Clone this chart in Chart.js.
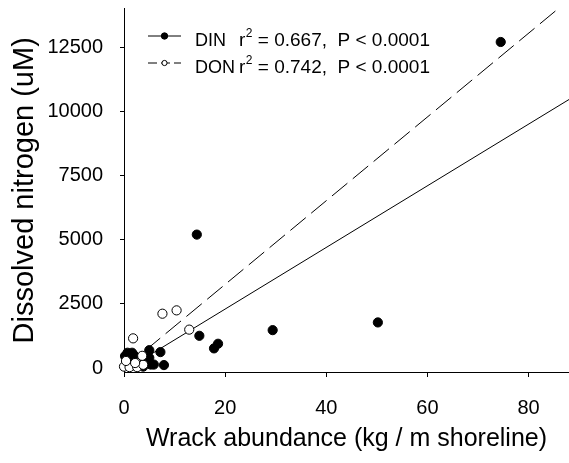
<!DOCTYPE html>
<html>
<head>
<meta charset="utf-8">
<script src="https://cdn.jsdelivr.net/npm/chart.js@4"></script>
<style>
html,body{margin:0;padding:0;background:#fff;}
#wrap{width:569px;height:463px;}
</style>
</head>
<body>
<div id="wrap"><canvas id="c" width="569" height="463"></canvas></div>
<script>
// ---- data ----
const dinX = [74.5, 14.4, 14.9, 17.8, 18.6, 29.4, 50.2, 0.2, 0.7, 1.6, 1.3, 0.8, 2.0, 5.0, 7.2, 5.0, 5.3, 5.9, 4.3, 7.9, 3.8, 1.6, 0.4];
const dinY = [12700, 5200, 1260, 770, 950, 1480, 1780, 470, 600, 600, 400, 250, 500, 700, 625, 400, 140, 140, 270, 120, 60, 100, 150];
const donX = [0.0, 1.1, 2.6, 3.8, 3.6, 1.8, 7.6, 10.4, 12.9, 0.4, 2.2];
const donY = [60, 40, 40, 130, 480, 1160, 2120, 2250, 1500, 280, 200];
const dinFitX = [0, 88];
const dinFitY = [-100, 10460];
const donFitX = [0, 88];
const donFitY = [0, 14344];
const xTickValues = [0, 20, 40, 60, 80];
const yTickValues = [0, 2500, 5000, 7500, 10000, 12500];
const legendNames = ["DIN", "DON"];
const legendStats = [" = 0.667,  P < 0.0001", " = 0.742,  P < 0.0001"];
const xTitle = "Wrack abundance (kg / m shoreline)";
const yTitle = "Dissolved nitrogen (uM)";

const FONT = "'Liberation Sans', Arial, sans-serif";
const toPts = (xs, ys) => xs.map((x, i) => ({x: x, y: ys[i]}));

const legendPlugin = {
  id: 'customLegend',
  afterDraw(chart) {
    const ctx = chart.ctx;
    ctx.save();
    const rows = [36, 63];
    for (let i = 0; i < 2; i++) {
      const y = rows[i];
      ctx.strokeStyle = '#000';
      ctx.lineWidth = 1;
      if (i === 1) ctx.setLineDash([9, 4]); else ctx.setLineDash([]);
      ctx.beginPath();
      ctx.moveTo(148, y); ctx.lineTo(181, y);
      ctx.stroke();
      ctx.setLineDash([]);
      ctx.beginPath();
      ctx.arc(164.5, y, i === 0 ? 3.2 : 2.6, 0, Math.PI * 2);
      ctx.fillStyle = i === 0 ? '#000' : '#fff';
      ctx.fill();
      ctx.stroke();
      ctx.fillStyle = '#000';
      ctx.textBaseline = 'alphabetic';
      ctx.textAlign = 'left';
      ctx.font = "18px " + FONT;
      ctx.fillText(legendNames[i], 195, y + 10);
      ctx.font = "19px " + FONT;
      ctx.fillText("r", 239, y + 10);
      const rw = ctx.measureText("r").width;
      ctx.font = "12px " + FONT;
      ctx.fillText("2", 239 + rw + 0.5, y + 1);
      const w2 = ctx.measureText("2").width;
      ctx.font = "19px " + FONT;
      ctx.fillText(legendStats[i], 239 + rw + w2 + 0.5, y + 10);
    }
    ctx.restore();
  }
};

new Chart(document.getElementById('c'), {
  type: 'scatter',
  data: {
    datasets: [
      {label: 'DON', data: toPts(donX, donY), order: 0, clip: false,
       pointRadius: 4.6, pointBackgroundColor: '#fff', pointBorderColor: '#000', pointBorderWidth: 1, showLine: false},
      {label: 'DIN', data: toPts(dinX, dinY), order: 1, clip: false,
       pointRadius: 4.6, pointBackgroundColor: '#000', pointBorderColor: '#000', pointBorderWidth: 1, showLine: false},
      {label: 'DIN fit', data: toPts(dinFitX, dinFitY), order: 2, showLine: true,
       pointRadius: 0, borderColor: '#000', borderWidth: 1, fill: false},
      {label: 'DON fit', data: toPts(donFitX, donFitY), order: 3, showLine: true,
       pointRadius: 0, borderColor: '#000', borderWidth: 1, borderDash: [20, 7], fill: false}
    ]
  },
  options: {
    responsive: false,
    animation: false,
    events: [],
    layout: {autoPadding: false, padding: {top: 8.6, right: 0, left: 0, bottom: 0}},
    plugins: {legend: {display: false}, tooltip: {enabled: false}},
    scales: {
      x: {
        type: 'linear', min: 0, max: 88,
        afterBuildTicks: s => { s.ticks = xTickValues.map(v => ({value: v})); },
        afterFit: s => { s.height = 91; s.paddingLeft = 0; s.paddingRight = 0; },
        grid: {display: true, drawOnChartArea: false, drawTicks: true, tickLength: 5, color: '#000', lineWidth: 1},
        border: {display: true, color: '#000', width: 1},
        ticks: {color: '#000', font: {family: FONT, size: 20}, padding: 19, maxRotation: 0, callback: v => String(v)},
        title: {display: true, text: xTitle, color: '#000', font: {family: FONT, size: 25}, padding: {top: 0, bottom: 9}}
      },
      y: {
        type: 'linear', min: -150, max: 14000,
        afterBuildTicks: s => { s.ticks = yTickValues.map(v => ({value: v})); },
        afterFit: s => { s.width = 124; s.paddingTop = 0; s.paddingBottom = 0; },
        grid: {display: true, drawOnChartArea: false, drawTicks: true, tickLength: 4, color: '#000', lineWidth: 1},
        border: {display: true, color: '#000', width: 1},
        ticks: {color: '#000', font: {family: FONT, size: 20}, padding: 17, callback: v => String(v)},
        title: {display: true, text: yTitle, color: '#000', font: {family: FONT, size: 29}, padding: {top: 8, bottom: 0}}
      }
    }
  },
  plugins: [legendPlugin]
});
</script>
</body>
</html>
